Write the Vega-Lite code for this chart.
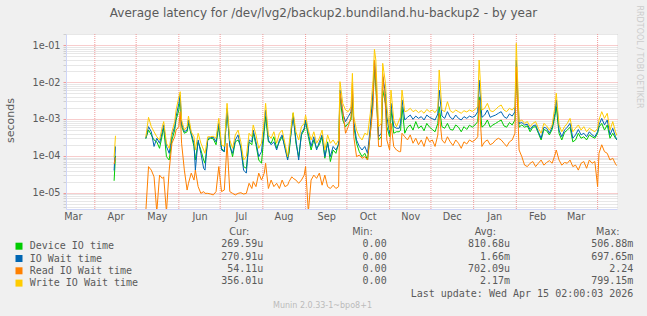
{
  "$schema": "https://vega.github.io/schema/vega-lite/v6.json",
  "width": 551,
  "height": 175,
  "autosize": {"type": "none"},
  "padding": {"left": 66, "top": 34, "right": 30, "bottom": 107},
  "background": "#f0f0f0",
  "config": {"view": {"fill": "#ffffff", "stroke": null}, "font": "DejaVu Sans"},
  "title": {"text": "Average latency for /dev/lvg2/backup2.bundiland.hu-backup2 - by year", "font": "DejaVu Sans", "fontSize": 12, "fontWeight": "normal", "color": "#5a5a5a", "anchor": "middle", "frame": "group", "baseline": "alphabetic", "offset": 0, "dx": -18, "dy": 24},
  "datasets": {
    "months": [{"t":"2025-04-01"},{"t":"2025-05-01"},{"t":"2025-06-01"},{"t":"2025-07-01"},{"t":"2025-08-01"},{"t":"2025-09-01"},{"t":"2025-10-01"},{"t":"2025-11-01"},{"t":"2025-12-01"},{"t":"2026-01-01"},{"t":"2026-02-01"},{"t":"2026-03-01"},{"t":"2026-04-01"}],
    "table": [
      {"row":"header","col":"cur","text":"Cur:"},{"row":"header","col":"min","text":"Min:"},{"row":"header","col":"avg","text":"Avg:"},{"row":"header","col":"max","text":"Max:"},
      {"row":"device","col":"cur","text":"269.59u"},{"row":"device","col":"min","text":"0.00\u00a0"},{"row":"device","col":"avg","text":"810.68u"},{"row":"device","col":"max","text":"506.88m"},
      {"row":"iowait","col":"cur","text":"270.91u"},{"row":"iowait","col":"min","text":"0.00\u00a0"},{"row":"iowait","col":"avg","text":"1.66m"},{"row":"iowait","col":"max","text":"697.65m"},
      {"row":"read","col":"cur","text":"54.11u"},{"row":"read","col":"min","text":"0.00\u00a0"},{"row":"read","col":"avg","text":"702.09u"},{"row":"read","col":"max","text":"2.24\u00a0"},
      {"row":"write","col":"cur","text":"356.01u"},{"row":"write","col":"min","text":"0.00\u00a0"},{"row":"write","col":"avg","text":"2.17m"},{"row":"write","col":"max","text":"799.15m"},
      {"row":"update","col":"max","text":"Last update: Wed Apr 15 02:00:03 2026"}
    ],
    "latency": [
      {"t":"2025-04-15","device":0.000021,"iowait":0.00004,"read":0.00006,"write":0.00009},
      {"t":"2025-04-16","device":0.0001,"iowait":0.00018,"read":0.00009,"write":0.00035},
      {"t":"2025-04-25","device":null,"iowait":null,"read":null,"write":null},
      {"t":"2025-05-08","device":0.00029,"iowait":0.0003,"read":0.000003,"write":0.00032},
      {"t":"2025-05-10","device":0.0005,"iowait":0.00062,"read":0.000051,"write":0.00111},
      {"t":"2025-05-12","device":0.00037,"iowait":0.00045,"read":0.000041,"write":0.00062},
      {"t":"2025-05-14","device":0.00027,"iowait":0.00018,"read":0.000027,"write":0.00045},
      {"t":"2025-05-16","device":0.00024,"iowait":0.0003,"read":0.000003,"write":0.00033},
      {"t":"2025-05-18","device":0.00016,"iowait":0.00022,"read":0.00003,"write":0.00027},
      {"t":"2025-05-20","device":0.00037,"iowait":0.00045,"read":0.0000245,"write":0.00062},
      {"t":"2025-05-21","device":0.00056,"iowait":0.00069,"read":0.000027,"write":0.00085},
      {"t":"2025-05-23","device":0.000095,"iowait":0.00018,"read":0.000003,"write":0.00022},
      {"t":"2025-05-25","device":0.000077,"iowait":0.000117,"read":0.000041,"write":0.00016},
      {"t":"2025-05-27","device":0.00027,"iowait":0.00037,"read":0.00022,"write":0.00045},
      {"t":"2025-05-29","device":0.0005,"iowait":0.00062,"read":0.00033,"write":0.00085},
      {"t":"2025-05-30","device":0.00094,"iowait":0.00116,"read":0.0005,"write":0.00175},
      {"t":"2025-06-01","device":0.00175,"iowait":0.00266,"read":0.00062,"write":0.004},
      {"t":"2025-06-02","device":0.0033,"iowait":0.0045,"read":0.00158,"write":0.0055},
      {"t":"2025-06-03","device":0.00062,"iowait":0.00076,"read":0.00022,"write":0.00094},
      {"t":"2025-06-05","device":0.00041,"iowait":0.00045,"read":0.000041,"write":0.0005},
      {"t":"2025-06-07","device":0.00045,"iowait":0.0005,"read":0.0000118,"write":0.00062},
      {"t":"2025-06-08","device":0.00076,"iowait":0.00094,"read":0.000018,"write":0.0012},
      {"t":"2025-06-10","device":0.00037,"iowait":0.00041,"read":0.000034,"write":0.00045},
      {"t":"2025-06-12","device":0.00018,"iowait":0.00022,"read":0.000022,"write":0.00033},
      {"t":"2025-06-13","device":0.000077,"iowait":0.000041,"read":0.000041,"write":0.000144},
      {"t":"2025-06-15","device":0.00024,"iowait":0.00027,"read":0.0000146,"write":0.00041},
      {"t":"2025-06-17","device":0.000144,"iowait":0.000117,"read":0.0000096,"write":0.00022},
      {"t":"2025-06-19","device":0.000077,"iowait":0.000046,"read":0.0000107,"write":0.000144},
      {"t":"2025-06-20","device":0.000063,"iowait":0.000041,"read":0.0000096,"write":0.000117},
      {"t":"2025-06-22","device":0.00027,"iowait":0.0003,"read":0.0000096,"write":0.00033},
      {"t":"2025-06-24","device":0.0003,"iowait":0.00031,"read":0.0000092,"write":0.00033},
      {"t":"2025-06-26","device":0.00029,"iowait":0.00032,"read":0.0000087,"write":0.00034},
      {"t":"2025-06-28","device":0.0002,"iowait":0.00024,"read":0.0000107,"write":0.0003},
      {"t":"2025-06-30","device":0.00062,"iowait":0.00076,"read":0.000051,"write":0.00104},
      {"t":"2025-07-02","device":0.00016,"iowait":0.000144,"read":0.0000107,"write":0.0002},
      {"t":"2025-07-04","device":0.00013,"iowait":0.00013,"read":0.0000118,"write":0.00018},
      {"t":"2025-07-06","device":0.00175,"iowait":0.00195,"read":0.00022,"write":0.00266},
      {"t":"2025-07-08","device":0.0002,"iowait":0.00018,"read":0.0000107,"write":0.00027},
      {"t":"2025-07-10","device":0.000095,"iowait":0.000117,"read":0.0000096,"write":0.00016},
      {"t":"2025-07-12","device":0.00024,"iowait":0.00027,"read":0.0000087,"write":0.00037},
      {"t":"2025-07-14","device":0.00027,"iowait":0.00037,"read":0.0000096,"write":0.0005},
      {"t":"2025-07-16","device":0.00018,"iowait":0.00016,"read":0.00001,"write":0.00024},
      {"t":"2025-07-18","device":0.000051,"iowait":0.000041,"read":0.0000092,"write":0.000077},
      {"t":"2025-07-20","device":0.000046,"iowait":0.000034,"read":0.0000096,"write":0.000095},
      {"t":"2025-07-22","device":0.00024,"iowait":0.00027,"read":0.000018,"write":0.00041},
      {"t":"2025-07-24","device":0.0002,"iowait":0.00024,"read":0.000013,"write":0.00033},
      {"t":"2025-07-25","device":0.00041,"iowait":0.0005,"read":0.00002,"write":0.00069},
      {"t":"2025-07-27","device":0.0002,"iowait":0.00024,"read":0.0000146,"write":0.00037},
      {"t":"2025-07-29","device":0.000077,"iowait":0.000095,"read":0.000034,"write":0.00016},
      {"t":"2025-07-31","device":0.000063,"iowait":0.00013,"read":0.000022,"write":0.00022},
      {"t":"2025-08-02","device":0.00045,"iowait":0.00062,"read":0.000034,"write":0.00094},
      {"t":"2025-08-03","device":0.00116,"iowait":0.00175,"read":0.000063,"write":0.00266},
      {"t":"2025-08-05","device":0.00024,"iowait":0.00027,"read":0.000013,"write":0.00037},
      {"t":"2025-08-07","device":0.00022,"iowait":0.0002,"read":0.000022,"write":0.0003},
      {"t":"2025-08-09","device":0.00033,"iowait":0.00024,"read":0.0000146,"write":0.00045},
      {"t":"2025-08-11","device":0.00016,"iowait":0.000144,"read":0.000018,"write":0.00022},
      {"t":"2025-08-13","device":0.00024,"iowait":0.00027,"read":0.000013,"write":0.00041},
      {"t":"2025-08-15","device":0.00033,"iowait":0.00037,"read":0.000022,"write":0.0005},
      {"t":"2025-08-17","device":0.00018,"iowait":0.00016,"read":0.0000146,"write":0.00022},
      {"t":"2025-08-19","device":0.000086,"iowait":0.000077,"read":0.000016,"write":0.000095},
      {"t":"2025-08-20","device":0.000117,"iowait":0.000144,"read":0.00002,"write":0.0002},
      {"t":"2025-08-22","device":0.00069,"iowait":0.00062,"read":0.000027,"write":0.00085},
      {"t":"2025-08-23","device":0.00143,"iowait":0.00116,"read":0.0000245,"write":0.0015},
      {"t":"2025-08-25","device":0.00022,"iowait":0.00027,"read":0.000022,"write":0.00045},
      {"t":"2025-08-27","device":0.000095,"iowait":0.000077,"read":0.000018,"write":0.00027},
      {"t":"2025-08-29","device":0.00037,"iowait":0.00041,"read":0.000022,"write":0.00062},
      {"t":"2025-08-31","device":0.0005,"iowait":0.00056,"read":0.00003,"write":0.00076},
      {"t":"2025-09-01","device":0.00085,"iowait":0.00094,"read":0.000051,"write":0.00128},
      {"t":"2025-09-03","device":0.00033,"iowait":0.00041,"read":0.000003,"write":0.0005},
      {"t":"2025-09-05","device":0.000144,"iowait":0.00018,"read":0.000022,"write":0.00027},
      {"t":"2025-09-07","device":0.00027,"iowait":0.00033,"read":0.00003,"write":0.00045},
      {"t":"2025-09-09","device":0.00016,"iowait":0.000144,"read":0.0000245,"write":0.00022},
      {"t":"2025-09-11","device":0.0002,"iowait":0.00024,"read":0.000034,"write":0.0003},
      {"t":"2025-09-13","device":0.00033,"iowait":0.00037,"read":0.000016,"write":0.0005},
      {"t":"2025-09-15","device":0.000086,"iowait":0.000095,"read":0.00003,"write":0.000144},
      {"t":"2025-09-17","device":0.00024,"iowait":0.00022,"read":0.0000146,"write":0.00037},
      {"t":"2025-09-19","device":0.00007,"iowait":0.000095,"read":0.000013,"write":0.00022},
      {"t":"2025-09-21","device":0.000144,"iowait":0.00018,"read":0.000016,"write":0.00027},
      {"t":"2025-09-23","device":0.000117,"iowait":0.000144,"read":0.000013,"write":0.0002},
      {"t":"2025-09-25","device":0.00022,"iowait":0.0002,"read":0.0000146,"write":0.00027},
      {"t":"2025-09-26","device":0.004,"iowait":0.0061,"read":0.005,"write":0.0103},
      {"t":"2025-09-28","device":0.00094,"iowait":0.00143,"read":0.00175,"write":0.00266},
      {"t":"2025-09-30","device":0.00062,"iowait":0.00085,"read":0.00041,"write":0.00175},
      {"t":"2025-10-02","device":0.00076,"iowait":0.00116,"read":0.00062,"write":0.00158},
      {"t":"2025-10-04","device":0.00094,"iowait":0.00158,"read":0.00116,"write":0.00216},
      {"t":"2025-10-05","device":0.0033,"iowait":0.0061,"read":0.0093,"write":0.0173},
      {"t":"2025-10-06","device":0.00062,"iowait":0.00085,"read":0.00033,"write":0.00116},
      {"t":"2025-10-08","device":0.00022,"iowait":0.00027,"read":0.000095,"write":0.0005},
      {"t":"2025-10-10","device":0.00013,"iowait":0.00018,"read":0.000105,"write":0.00033},
      {"t":"2025-10-12","device":0.000095,"iowait":0.000144,"read":0.000086,"write":0.00027},
      {"t":"2025-10-14","device":0.000117,"iowait":0.00018,"read":0.000095,"write":0.00041},
      {"t":"2025-10-16","device":0.000077,"iowait":0.000117,"read":0.000077,"write":0.00037},
      {"t":"2025-10-18","device":0.00041,"iowait":0.00062,"read":0.00041,"write":0.00143},
      {"t":"2025-10-20","device":0.004,"iowait":0.0061,"read":0.00216,"write":0.0114},
      {"t":"2025-10-21","device":0.0214,"iowait":0.0399,"read":0.0399,"write":0.0776},
      {"t":"2025-10-22","device":0.0075,"iowait":0.0141,"read":0.0114,"write":0.0399},
      {"t":"2025-10-24","device":0.00027,"iowait":0.00033,"read":0.00018,"write":0.00062},
      {"t":"2025-10-26","device":0.00033,"iowait":0.00041,"read":0.00018,"write":0.00076},
      {"t":"2025-10-27","device":0.0061,"iowait":0.0141,"read":0.0173,"write":0.0324},
      {"t":"2025-10-29","device":0.00266,"iowait":0.005,"read":0.00216,"write":0.0093},
      {"t":"2025-10-30","device":0.00062,"iowait":0.00116,"read":0.00027,"write":0.00216},
      {"t":"2025-11-01","device":0.00033,"iowait":0.00041,"read":0.000144,"write":0.0005},
      {"t":"2025-11-02","device":0.00175,"iowait":0.00266,"read":0.00076,"write":0.0061},
      {"t":"2025-11-04","device":0.00041,"iowait":0.00062,"read":0.00018,"write":0.00094},
      {"t":"2025-11-06","device":0.00045,"iowait":0.00056,"read":0.000144,"write":0.00062},
      {"t":"2025-11-08","device":0.00045,"iowait":0.00056,"read":0.00013,"write":0.00094},
      {"t":"2025-11-09","device":0.0005,"iowait":0.00076,"read":0.00013,"write":0.00116},
      {"t":"2025-11-10","device":0.00216,"iowait":0.0033,"read":0.00041,"write":0.0061},
      {"t":"2025-11-12","device":0.00041,"iowait":0.00094,"read":0.00033,"write":0.00158},
      {"t":"2025-11-14","device":0.0006,"iowait":0.00111,"read":0.00027,"write":0.00168},
      {"t":"2025-11-16","device":0.00069,"iowait":0.00128,"read":0.00037,"write":0.00195},
      {"t":"2025-11-18","device":0.0005,"iowait":0.00098,"read":0.00022,"write":0.00158},
      {"t":"2025-11-20","device":0.00085,"iowait":0.0012,"read":0.0003,"write":0.00175},
      {"t":"2025-11-22","device":0.00056,"iowait":0.00104,"read":0.0002,"write":0.00149},
      {"t":"2025-11-24","device":0.00065,"iowait":0.00116,"read":0.00027,"write":0.00168},
      {"t":"2025-11-26","device":0.00048,"iowait":0.00094,"read":0.00018,"write":0.00143},
      {"t":"2025-11-28","device":0.00076,"iowait":0.00128,"read":0.00033,"write":0.00182},
      {"t":"2025-11-30","device":0.0006,"iowait":0.00111,"read":0.00024,"write":0.00158},
      {"t":"2025-12-02","device":0.00052,"iowait":0.00102,"read":0.00027,"write":0.00175},
      {"t":"2025-12-04","device":0.00045,"iowait":0.00094,"read":0.00018,"write":0.00149},
      {"t":"2025-12-06","device":0.00076,"iowait":0.00137,"read":0.00037,"write":0.00195},
      {"t":"2025-12-07","device":0.00216,"iowait":0.0061,"read":0.00143,"write":0.0214},
      {"t":"2025-12-09","device":0.00062,"iowait":0.0012,"read":0.00027,"write":0.00175},
      {"t":"2025-12-11","device":0.00056,"iowait":0.00104,"read":0.00022,"write":0.00158},
      {"t":"2025-12-13","device":0.00076,"iowait":0.00158,"read":0.00033,"write":0.00295},
      {"t":"2025-12-15","device":0.00052,"iowait":0.00111,"read":0.00024,"write":0.00168},
      {"t":"2025-12-17","device":0.0005,"iowait":0.00098,"read":0.00019,"write":0.00149},
      {"t":"2025-12-19","device":0.00069,"iowait":0.00128,"read":0.00027,"write":0.00175},
      {"t":"2025-12-21","device":0.0006,"iowait":0.00104,"read":0.00022,"write":0.00158},
      {"t":"2025-12-23","device":0.00045,"iowait":0.00094,"read":0.00016,"write":0.00143},
      {"t":"2025-12-25","device":0.00062,"iowait":0.00116,"read":0.00024,"write":0.00168},
      {"t":"2025-12-27","device":0.00052,"iowait":0.00104,"read":0.00021,"write":0.00155},
      {"t":"2025-12-29","device":0.00068,"iowait":0.0012,"read":0.00027,"write":0.00175},
      {"t":"2025-12-31","device":0.0006,"iowait":0.00111,"read":0.00024,"write":0.00161},
      {"t":"2026-01-02","device":0.00069,"iowait":0.0012,"read":0.00027,"write":0.00182},
      {"t":"2026-01-04","device":0.00085,"iowait":0.00158,"read":0.00033,"write":0.00216},
      {"t":"2026-01-05","device":0.004,"iowait":0.0114,"read":0.0033,"write":0.0399},
      {"t":"2026-01-07","device":0.0006,"iowait":0.00111,"read":0.00018,"write":0.00175},
      {"t":"2026-01-09","device":0.00069,"iowait":0.00128,"read":0.00024,"write":0.00195},
      {"t":"2026-01-11","device":0.00094,"iowait":0.00175,"read":0.00027,"write":0.00266},
      {"t":"2026-01-13","device":0.0006,"iowait":0.00111,"read":0.0002,"write":0.00168},
      {"t":"2026-01-15","device":0.00069,"iowait":0.0012,"read":0.00022,"write":0.00158},
      {"t":"2026-01-17","device":0.00076,"iowait":0.00128,"read":0.00027,"write":0.00182},
      {"t":"2026-01-19","device":0.00085,"iowait":0.00143,"read":0.0003,"write":0.00216},
      {"t":"2026-01-21","device":0.00094,"iowait":0.00158,"read":0.00027,"write":0.0024},
      {"t":"2026-01-23","device":0.00065,"iowait":0.00116,"read":0.00022,"write":0.00175},
      {"t":"2026-01-25","device":0.0006,"iowait":0.00104,"read":0.00018,"write":0.00158},
      {"t":"2026-01-27","device":0.0008,"iowait":0.00137,"read":0.00024,"write":0.00195},
      {"t":"2026-01-29","device":0.00069,"iowait":0.0012,"read":0.00027,"write":0.00175},
      {"t":"2026-01-31","device":0.00094,"iowait":0.00158,"read":0.00041,"write":0.00216},
      {"t":"2026-02-01","device":0.0173,"iowait":0.0399,"read":0.026,"write":0.113},
      {"t":"2026-02-03","device":0.0006,"iowait":0.00076,"read":0.000144,"write":0.00085},
      {"t":"2026-02-05","device":0.00069,"iowait":0.0008,"read":0.000095,"write":0.00094},
      {"t":"2026-02-07","device":0.0006,"iowait":0.00069,"read":0.000056,"write":0.00076},
      {"t":"2026-02-09","device":0.00065,"iowait":0.00072,"read":0.000051,"write":0.00085},
      {"t":"2026-02-11","device":0.00045,"iowait":0.00052,"read":0.000063,"write":0.00062},
      {"t":"2026-02-13","device":0.0006,"iowait":0.00065,"read":0.00007,"write":0.00076},
      {"t":"2026-02-15","device":0.00062,"iowait":0.00069,"read":0.000051,"write":0.00085},
      {"t":"2026-02-17","device":0.00041,"iowait":0.00045,"read":0.000063,"write":0.00056},
      {"t":"2026-02-19","device":0.00027,"iowait":0.0003,"read":0.000077,"write":0.00041},
      {"t":"2026-02-21","device":0.00052,"iowait":0.0006,"read":0.000056,"write":0.00076},
      {"t":"2026-02-23","device":0.00048,"iowait":0.00056,"read":0.000066,"write":0.00065},
      {"t":"2026-02-25","device":0.00037,"iowait":0.00041,"read":0.000074,"write":0.0005},
      {"t":"2026-02-27","device":0.00052,"iowait":0.0006,"read":0.000063,"write":0.00069},
      {"t":"2026-03-01","device":0.00116,"iowait":0.00143,"read":0.000105,"write":0.00216},
      {"t":"2026-03-02","device":0.00216,"iowait":0.0033,"read":0.000144,"write":0.005},
      {"t":"2026-03-04","device":0.00041,"iowait":0.0005,"read":0.000077,"write":0.00069},
      {"t":"2026-03-06","device":0.00027,"iowait":0.00033,"read":0.000056,"write":0.00045},
      {"t":"2026-03-08","device":0.00043,"iowait":0.0005,"read":0.000066,"write":0.00062},
      {"t":"2026-03-10","device":0.0005,"iowait":0.0006,"read":0.000063,"write":0.00076},
      {"t":"2026-03-12","device":0.0006,"iowait":0.00076,"read":0.000077,"write":0.00104},
      {"t":"2026-03-14","device":0.00024,"iowait":0.0003,"read":0.000051,"write":0.00045},
      {"t":"2026-03-16","device":0.00027,"iowait":0.00037,"read":0.000056,"write":0.00056},
      {"t":"2026-03-18","device":0.00041,"iowait":0.00052,"read":0.000041,"write":0.00069},
      {"t":"2026-03-20","device":0.0003,"iowait":0.00037,"read":0.000063,"write":0.0005},
      {"t":"2026-03-22","device":0.00033,"iowait":0.00041,"read":0.00007,"write":0.00062},
      {"t":"2026-03-24","device":0.00027,"iowait":0.00033,"read":0.000046,"write":0.00045},
      {"t":"2026-03-26","device":0.00037,"iowait":0.00045,"read":0.000077,"write":0.00056},
      {"t":"2026-03-28","device":0.00033,"iowait":0.00037,"read":0.000063,"write":0.0005},
      {"t":"2026-03-30","device":0.0003,"iowait":0.00033,"read":0.00007,"write":0.00045},
      {"t":"2026-04-01","device":0.00041,"iowait":0.00045,"read":0.0000146,"write":0.00056},
      {"t":"2026-04-02","device":0.0006,"iowait":0.00069,"read":0.000117,"write":0.00094},
      {"t":"2026-04-04","device":0.00076,"iowait":0.00104,"read":0.0002,"write":0.00158},
      {"t":"2026-04-06","device":0.0005,"iowait":0.00069,"read":0.00013,"write":0.00104},
      {"t":"2026-04-08","device":0.00069,"iowait":0.00094,"read":0.000117,"write":0.00143},
      {"t":"2026-04-10","device":0.0003,"iowait":0.00037,"read":0.000077,"write":0.0005},
      {"t":"2026-04-12","device":0.00041,"iowait":0.00056,"read":0.000086,"write":0.00085},
      {"t":"2026-04-14","device":0.0003,"iowait":0.00033,"read":0.00006,"write":0.00045},
      {"t":"2026-04-15","device":0.00027,"iowait":0.000271,"read":0.000054,"write":0.000356}
    ]
  },
  "layer": [
    {
      "encoding": {
        "x": {
          "field": "t", "type": "temporal",
          "scale": {"domain": [{"year": 2025, "month": 3, "date": 11, "hours": 2}, {"year": 2026, "month": 4, "date": 15, "hours": 2}]},
          "axis": {
            "values": [{"year":2025,"month":3,"date":16},{"year":2025,"month":4,"date":16},{"year":2025,"month":5,"date":16},{"year":2025,"month":6,"date":16},{"year":2025,"month":7,"date":16},{"year":2025,"month":8,"date":16},{"year":2025,"month":9,"date":16},{"year":2025,"month":10,"date":16},{"year":2025,"month":11,"date":16},{"year":2025,"month":12,"date":16},{"year":2026,"month":1,"date":16},{"year":2026,"month":2,"date":16},{"year":2026,"month":3,"date":16}],
            "format": "%b", "labelFont": "DejaVu Sans", "labelFontSize": 9.7, "labelColor": "#5a5a5a", "labelPadding": 2, "labelFlush": false, "labelOverlap": false,
            "ticks": false, "grid": false, "domainColor": "#cfd6f8", "domainWidth": 1,
            "title": "Munin 2.0.33-1~bpo8+1", "titleFont": "DejaVu Sans", "titleFontSize": 8, "titleFontWeight": "normal", "titleColor": "#bbbbbb", "titleX": 256, "titleY": 96.7, "titleAlign": "center", "titleBaseline": "middle"
          }
        }
      },
      "layer": [
        {"data": {"name": "months"}, "mark": {"type": "rule", "color": "#f09a9a", "strokeDash": [1, 1], "strokeWidth": 1}, "encoding": {}},
        {
          "data": {"name": "latency"},
          "transform": [{"fold": ["device", "iowait", "read", "write"], "as": ["series", "value"]}],
          "mark": {"type": "line", "strokeWidth": 1, "clip": true, "invalid": "break-paths-filter-domains"},
          "encoding": {
            "y": {
              "field": "value", "type": "quantitative",
              "scale": {"type": "log", "domain": [0.00000361, 0.2026], "nice": false},
              "axis": {
                "values": [0.000004,0.000005,0.000006,0.000007,0.000008,0.000009,0.00001,0.00002,0.00003,0.00004,0.00005,0.00006,0.00007,0.00008,0.00009,0.0001,0.0002,0.0003,0.0004,0.0005,0.0006,0.0007,0.0008,0.0009,0.001,0.002,0.003,0.004,0.005,0.006,0.007,0.008,0.009,0.01,0.02,0.03,0.04,0.05,0.06,0.07,0.08,0.09,0.1,0.2],
                "labelExpr": "abs(log(datum.value)/LN10 - round(log(datum.value)/LN10)) < 0.01 ? '1e-0' + (-round(log(datum.value)/LN10)) : ''",
                "labelFont": "DejaVu Sans", "labelFontSize": 9.7, "labelColor": "#5a5a5a", "labelPadding": 3, "labelOverlap": false, "labelBound": false,
                "tickSize": 3,
                "tickColor": {"condition": {"test": "abs(log(datum.value)/LN10 - round(log(datum.value)/LN10)) < 0.01", "value": "#f09a9a"}, "value": "#cfcfcf"},
                "gridColor": {"condition": {"test": "abs(log(datum.value)/LN10 - round(log(datum.value)/LN10)) < 0.01", "value": "#f09a9a"}, "value": "#cfcfcf"},
                "gridDash": [1, 1], "gridWidth": 1,
                "domainColor": "#cfd6f8",
                "title": "seconds", "titleFont": "DejaVu Sans", "titleFontSize": 11, "titleFontWeight": "normal", "titleColor": "#5a5a5a", "titleX": -55.3, "titleY": 86, "titleAlign": "center", "titleBaseline": "middle"
              }
            },
            "color": {
              "field": "series", "type": "nominal",
              "scale": {"domain": ["device", "iowait", "read", "write"], "range": ["#00cc00", "#0066b3", "#ff8000", "#ffcc00"]},
              "legend": {
                "orient": "none", "legendX": -52, "legendY": 207.2, "direction": "vertical", "title": null, "padding": 0, "offset": 0,
                "labelExpr": "datum.value === 'device' ? 'Device IO time' : datum.value === 'iowait' ? 'IO Wait time' : datum.value === 'read' ? 'Read IO Wait time' : 'Write IO Wait time'",
                "labelFont": "DejaVu Sans Mono", "labelFontSize": 10, "labelColor": "#5a5a5a", "labelOffset": 5.7,
                "symbolType": "square", "symbolSize": 49, "symbolStrokeWidth": 0, "rowPadding": 2.3,
                "encode": {"symbols": {"update": {"fill": {"scale": "color", "field": "value"}, "strokeWidth": {"value": 0}}}}
              }
            }
          }
        }
      ]
    },
    {
      "data": {"name": "table"},
      "encoding": {
        "x": {"field": "col", "type": "nominal", "scale": {"type": "point", "domain": ["cur", "min", "avg", "max"], "range": [197.3, 567.4], "padding": 0}, "axis": null},
        "y": {
          "field": "row", "type": "nominal",
          "scale": {"type": "point", "domain": ["header", "device", "iowait", "read", "write", "update"], "range": [198.2, 259.5], "padding": 0},
          "axis": {"orient": "right", "labels": false, "ticks": false, "domain": false, "grid": false,
                   "title": "RRDTOOL / TOBI OETIKER", "titleAngle": 90, "titleX": 21.7, "titleY": 22.5, "titleAlign": "center", "titleBaseline": "middle",
                   "titleFont": "DejaVu Sans", "titleFontSize": 8, "titleFontWeight": "normal", "titleColor": "#cccccc"}
        },
        "text": {"field": "text", "type": "nominal"}
      },
      "layer": [
        {"transform": [{"filter": "datum.row === 'header'"}], "mark": {"type": "text", "align": "right", "baseline": "middle", "dx": -14, "font": "DejaVu Sans", "fontSize": 9.7, "color": "#5a5a5a"}},
        {"transform": [{"filter": "datum.row !== 'header'"}], "mark": {"type": "text", "align": "right", "baseline": "middle", "font": "DejaVu Sans Mono", "fontSize": 10, "color": "#5a5a5a"}}
      ]
    }
  ],
  "resolve": {"scale": {"x": "independent", "y": "independent"}}
}
